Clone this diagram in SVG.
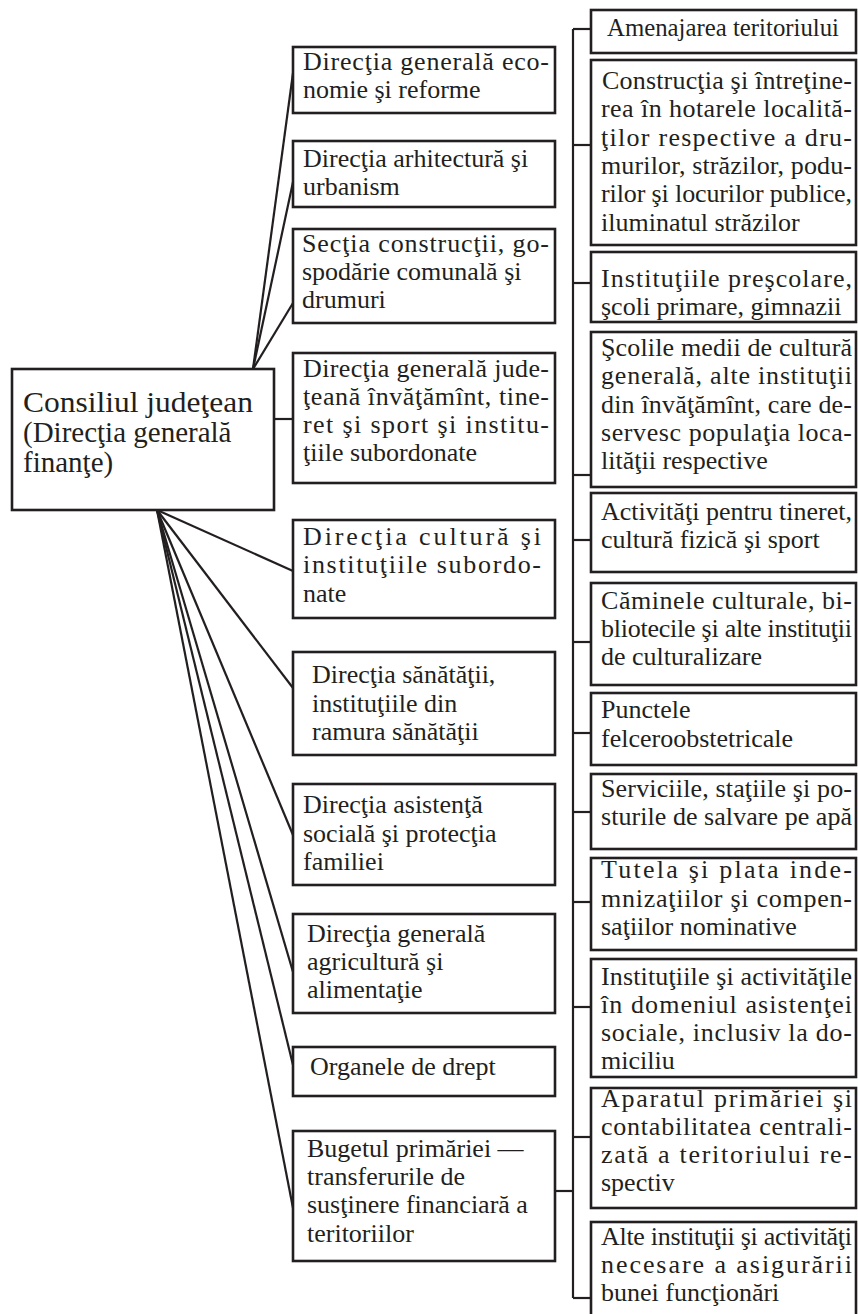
<svg xmlns="http://www.w3.org/2000/svg" width="858" height="1314" viewBox="0 0 858 1314">
  <style>
    .box { fill: #ffffff; stroke: #231f20; stroke-width: 2.6; }
    .t { font-family: "Liberation Serif", "Times New Roman", serif; font-size: 26px; fill: #231f20; }
    .big { font-size: 29px; }
    .c { fill: none; stroke: #231f20; stroke-width: 2.2; }
  </style>
  <rect width="858" height="1314" fill="#ffffff"/>

  <!-- connectors -->
  <g id="connectors" class="c">
    <!-- fan from the top of the council box -->
    <line x1="253" y1="369" x2="293" y2="73"/>
    <line x1="253" y1="369" x2="293" y2="182"/>
    <line x1="253" y1="369" x2="293" y2="303"/>
    <!-- direct link to the education directorate -->
    <line x1="274" y1="419" x2="293" y2="419"/>
    <!-- fan from the bottom of the council box -->
    <line x1="157" y1="510" x2="293" y2="571"/>
    <line x1="157" y1="510" x2="293" y2="688"/>
    <line x1="157" y1="510" x2="293" y2="835"/>
    <line x1="157" y1="510" x2="293" y2="972"/>
    <line x1="157" y1="510" x2="293" y2="1065"/>
    <line x1="157" y1="510" x2="293" y2="1208"/>
    <!-- municipal budget to the vertical bus -->
    <line x1="555" y1="1191" x2="573" y2="1191"/>
    <line x1="573" y1="29" x2="573" y2="1298"/>
    <!-- bus ticks -->
    <line x1="573" y1="29" x2="591" y2="29"/>
    <line x1="573" y1="145" x2="591" y2="145"/>
    <line x1="573" y1="283" x2="591" y2="283"/>
    <line x1="573" y1="475" x2="591" y2="475"/>
    <line x1="573" y1="540" x2="591" y2="540"/>
    <line x1="573" y1="642" x2="591" y2="642"/>
    <line x1="573" y1="733" x2="591" y2="733"/>
    <line x1="573" y1="812" x2="591" y2="812"/>
    <line x1="573" y1="902" x2="591" y2="902"/>
    <line x1="573" y1="1007" x2="591" y2="1007"/>
    <line x1="573" y1="1137" x2="591" y2="1137"/>
    <line x1="573" y1="1298" x2="591" y2="1298"/>
  </g>

  <!-- council -->
  <g id="consiliu">
    <rect class="box" x="12" y="369" width="262" height="141"/>
    <text class="t big" x="23" y="412" textLength="230" lengthAdjust="spacingAndGlyphs">Consiliul judeţean</text>
    <text class="t big" x="23" y="442">(Direcţia generală</text>
    <text class="t big" x="23" y="472">finanţe)</text>
  </g>

  <!-- middle column -->
  <g id="m1">
    <rect class="box" x="293" y="47" width="262" height="66"/>
    <text class="t" x="303" y="70" textLength="246" lengthAdjust="spacing">Direcţia generală eco-</text>
    <text class="t" x="303" y="98">nomie şi reforme</text>
  </g>
  <g id="m2">
    <rect class="box" x="293" y="141" width="262" height="66"/>
    <text class="t" x="303" y="167">Direcţia arhitectură şi</text>
    <text class="t" x="303" y="195">urbanism</text>
  </g>
  <g id="m3">
    <rect class="box" x="293" y="229" width="262" height="94"/>
    <text class="t" x="302" y="252" textLength="247" lengthAdjust="spacing">Secţia construcţii, go-</text>
    <text class="t" x="302" y="280">spodărie comunală şi</text>
    <text class="t" x="302" y="308">drumuri</text>
  </g>
  <g id="m4">
    <rect class="box" x="293" y="353" width="262" height="130"/>
    <text class="t" x="303" y="377" textLength="246" lengthAdjust="spacing">Direcţia generală jude-</text>
    <text class="t" x="303" y="405" textLength="246" lengthAdjust="spacing">ţeană învăţămînt, tine-</text>
    <text class="t" x="303" y="433" textLength="246" lengthAdjust="spacing">ret şi sport şi institu-</text>
    <text class="t" x="303" y="461">ţiile subordonate</text>
  </g>
  <g id="m5">
    <rect class="box" x="293" y="520" width="262" height="98"/>
    <text class="t" x="303" y="545" textLength="238" lengthAdjust="spacing">Direcţia cultură şi</text>
    <text class="t" x="303" y="573" textLength="238" lengthAdjust="spacing">instituţiile subordo-</text>
    <text class="t" x="303" y="602">nate</text>
  </g>
  <g id="m6">
    <rect class="box" x="293" y="652" width="262" height="103"/>
    <text class="t" x="312" y="683">Direcţia sănătăţii,</text>
    <text class="t" x="312" y="712">instituţiile din</text>
    <text class="t" x="312" y="740">ramura sănătăţii</text>
  </g>
  <g id="m7">
    <rect class="box" x="293" y="784" width="262" height="101"/>
    <text class="t" x="303" y="813">Direcţia asistenţă</text>
    <text class="t" x="303" y="842">socială şi protecţia</text>
    <text class="t" x="303" y="870">familiei</text>
  </g>
  <g id="m8">
    <rect class="box" x="293" y="914" width="262" height="99"/>
    <text class="t" x="307" y="942">Direcţia generală</text>
    <text class="t" x="307" y="970">agricultură şi</text>
    <text class="t" x="307" y="998">alimentaţie</text>
  </g>
  <g id="m9">
    <rect class="box" x="293" y="1047" width="262" height="49"/>
    <text class="t" x="310" y="1075">Organele de drept</text>
  </g>
  <g id="m10">
    <rect class="box" x="293" y="1131" width="262" height="130"/>
    <text class="t" x="307" y="1157">Bugetul primăriei —</text>
    <text class="t" x="307" y="1185">transferurile de</text>
    <text class="t" x="307" y="1213">susţinere financiară a</text>
    <text class="t" x="307" y="1242">teritoriilor</text>
  </g>

  <!-- right column -->
  <g id="r1">
    <rect class="box" x="591" y="10" width="265" height="43"/>
    <text class="t" x="607" y="36" textLength="232" lengthAdjust="spacingAndGlyphs">Amenajarea teritoriului</text>
  </g>
  <g id="r2">
    <rect class="box" x="591" y="60" width="265" height="185"/>
    <text class="t" x="602" y="89" textLength="250" lengthAdjust="spacing">Construcţia şi întreţine-</text>
    <text class="t" x="601" y="117" textLength="251" lengthAdjust="spacing">rea în hotarele localită-</text>
    <text class="t" x="601" y="146" textLength="251" lengthAdjust="spacing">ţilor respective a dru-</text>
    <text class="t" x="601" y="174" textLength="251" lengthAdjust="spacing">murilor, străzilor, podu-</text>
    <text class="t" x="601" y="202" textLength="251" lengthAdjust="spacing">rilor şi locurilor publice,</text>
    <text class="t" x="601" y="231">iluminatul străzilor</text>
  </g>
  <g id="r3">
    <rect class="box" x="591" y="252" width="265" height="70"/>
    <text class="t" x="601" y="287" textLength="251" lengthAdjust="spacing">Instituţiile preşcolare,</text>
    <text class="t" x="601" y="315">şcoli primare, gimnazii</text>
  </g>
  <g id="r4">
    <rect class="box" x="591" y="332" width="265" height="155"/>
    <text class="t" x="601" y="356" textLength="251" lengthAdjust="spacing">Şcolile medii de cultură</text>
    <text class="t" x="601" y="384" textLength="251" lengthAdjust="spacing">generală, alte instituţii</text>
    <text class="t" x="601" y="413" textLength="251" lengthAdjust="spacing">din învăţămînt, care de-</text>
    <text class="t" x="601" y="441" textLength="251" lengthAdjust="spacing">servesc populaţia loca-</text>
    <text class="t" x="601" y="469">lităţii respective</text>
  </g>
  <g id="r5">
    <rect class="box" x="591" y="493" width="265" height="79"/>
    <text class="t" x="601" y="520" textLength="251" lengthAdjust="spacing">Activităţi pentru tineret,</text>
    <text class="t" x="601" y="548">cultură fizică şi sport</text>
  </g>
  <g id="r6">
    <rect class="box" x="591" y="583" width="265" height="102"/>
    <text class="t" x="601" y="609" textLength="251" lengthAdjust="spacing">Căminele culturale, bi-</text>
    <text class="t" x="601" y="637" textLength="251" lengthAdjust="spacing">bliotecile şi alte instituţii</text>
    <text class="t" x="601" y="665">de culturalizare</text>
  </g>
  <g id="r7">
    <rect class="box" x="591" y="693" width="265" height="72"/>
    <text class="t" x="601" y="718">Punctele</text>
    <text class="t" x="601" y="747">felceroobstetricale</text>
  </g>
  <g id="r8">
    <rect class="box" x="591" y="774" width="265" height="75"/>
    <text class="t" x="601" y="797" textLength="251" lengthAdjust="spacing">Serviciile, staţiile şi po-</text>
    <text class="t" x="601" y="825" textLength="251" lengthAdjust="spacing">sturile de salvare pe apă</text>
  </g>
  <g id="r9">
    <rect class="box" x="591" y="858" width="265" height="92"/>
    <text class="t" x="601" y="878" textLength="251" lengthAdjust="spacing">Tutela şi plata inde-</text>
    <text class="t" x="601" y="907" textLength="251" lengthAdjust="spacing">mnizaţiilor şi compen-</text>
    <text class="t" x="601" y="935">saţiilor nominative</text>
  </g>
  <g id="r10">
    <rect class="box" x="591" y="959" width="265" height="118"/>
    <text class="t" x="601" y="985" textLength="251" lengthAdjust="spacing">Instituţiile şi activităţile</text>
    <text class="t" x="601" y="1013" textLength="251" lengthAdjust="spacing">în domeniul asistenţei</text>
    <text class="t" x="601" y="1041" textLength="251" lengthAdjust="spacing">sociale, inclusiv la do-</text>
    <text class="t" x="601" y="1069">miciliu</text>
  </g>
  <g id="r11">
    <rect class="box" x="591" y="1088" width="265" height="120"/>
    <text class="t" x="601" y="1107" textLength="251" lengthAdjust="spacing">Aparatul primăriei şi</text>
    <text class="t" x="601" y="1135" textLength="251" lengthAdjust="spacing">contabilitatea centrali-</text>
    <text class="t" x="601" y="1163" textLength="251" lengthAdjust="spacing">zată a teritoriului re-</text>
    <text class="t" x="601" y="1191">spectiv</text>
  </g>
  <g id="r12">
    <rect class="box" x="591" y="1222" width="265" height="110"/>
    <text class="t" x="601" y="1245" textLength="251" lengthAdjust="spacing">Alte instituţii şi activităţi</text>
    <text class="t" x="601" y="1273" textLength="251" lengthAdjust="spacing">necesare a asigurării</text>
    <text class="t" x="601" y="1301">bunei funcţionări</text>
  </g>
</svg>
